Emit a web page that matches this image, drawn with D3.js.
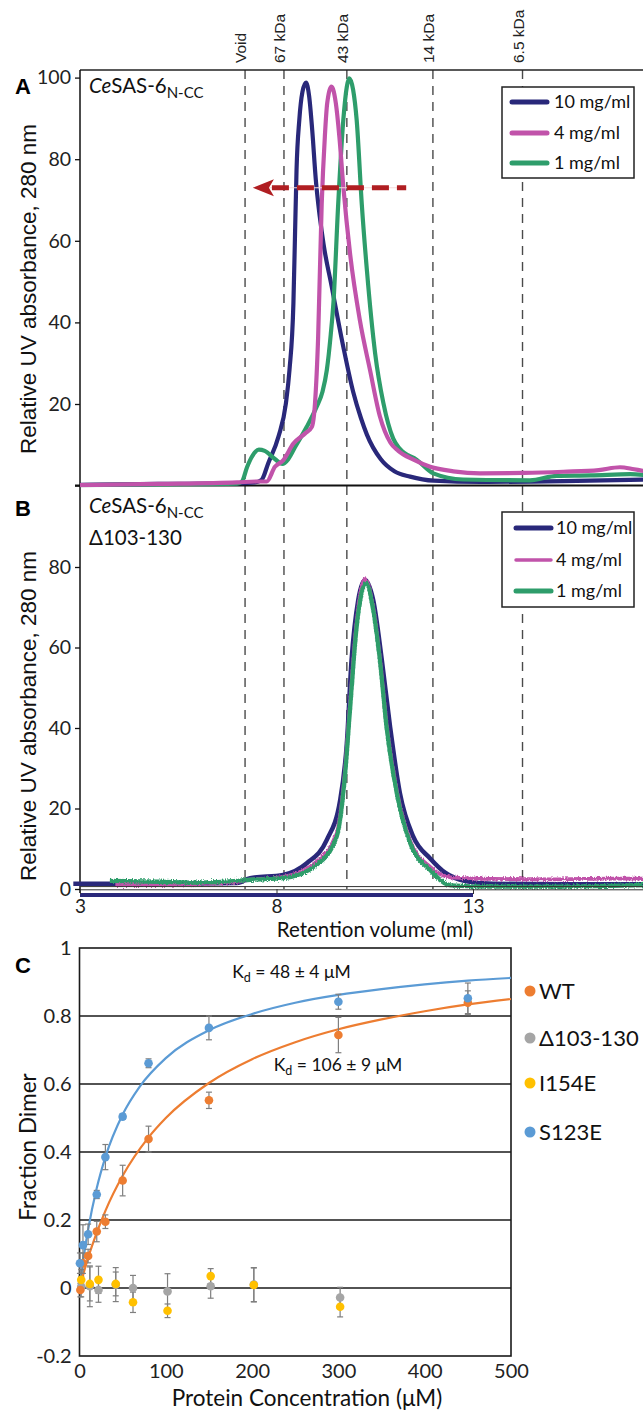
<!DOCTYPE html>
<html><head><meta charset="utf-8">
<script src="https://cdn.jsdelivr.net/npm/d3@7"></script>
<style>
html,body{margin:0;padding:0;background:#fff;}
svg{display:block;}
</style></head>
<body>
<svg id="chart" width="643" height="1412"></svg>
<script>
// ---------- Data ----------
// Size-exclusion markers (retention volume, ml)
const markerVols = [7.2, 8.19, 9.79, 11.98, 14.26];
const markerLabels = ["Void", "67 kDa", "43 kDa", "14 kDa", "6.5 kDa"];
const seriesNames = ["10 mg/ml", "4 mg/ml", "1 mg/ml"];
const seriesColors = ["#29287a", "#c153aa", "#2e9d6b"];

// Panel A: [volume ml, relative absorbance]
const a10 = [[3,0.2],[5,0.4],[7,0.6],[7.45,0.8],[7.62,1.4],[7.79,5.5],[8.05,12],[8.24,20.2],[8.33,28.3],[8.43,44.6],[8.47,61],[8.51,77.4],[8.58,89.6],[8.66,96.5],[8.75,98.8],[8.83,95.5],[8.91,87],[9.0,75],[9.1,66],[9.2,59],[9.4,49],[9.7,34],[9.95,23],[10.15,16.5],[10.3,12.5],[10.65,6.5],[11.0,3.5],[11.4,2.2],[12.0,1.2],[13.2,0.9],[15.3,1.1],[17.4,1.5]];
const a4 = [[3,0.1],[5,0.4],[7,0.8],[7.5,1.0],[7.75,1.0],[7.96,4.6],[8.17,6.2],[8.43,10.3],[8.73,12.8],[8.90,14.4],[8.98,20.2],[9.06,36.5],[9.15,69],[9.23,85.5],[9.29,93.7],[9.40,97.8],[9.51,93.7],[9.60,85.5],[9.70,73.3],[9.87,57],[10.12,40.6],[10.38,28.3],[10.63,17.0],[10.90,10.5],[11.10,8.5],[11.5,6.3],[11.91,4.6],[12.5,3.5],[13.18,3.0],[14.3,3.1],[15.3,3.4],[16.2,3.8],[16.74,4.5],[17.1,4.0],[17.4,3.5]];
const a1 = [[3,0.1],[5,0.3],[7.0,0.5],[7.12,1.0],[7.25,4.5],[7.37,7.0],[7.55,8.8],[7.7,8.5],[7.96,6.5],[8.15,5.3],[8.3,6.5],[8.47,9.4],[8.77,14.4],[9.02,19.3],[9.17,23],[9.28,28.3],[9.38,37],[9.45,45],[9.57,69],[9.70,89.6],[9.79,97.8],[9.85,99.8],[9.95,97],[10.04,89.6],[10.17,69],[10.30,52.8],[10.51,32.4],[10.72,20.2],[10.97,11.5],[11.14,9.0],[11.57,6.3],[11.99,3.0],[12.75,1.5],[14.45,1.3],[15.13,2.4],[16.0,2.5],[17.0,2.8],[17.4,2.6]];

// Panel B
const b10 = [[2.83,1.3],[5,1.3],[7,1.5],[7.33,2.7],[8.17,3.5],[8.77,6.4],[9.28,12.2],[9.62,22.1],[9.79,36.2],[9.91,56.9],[10.08,71.8],[10.25,76.8],[10.46,71.8],[10.68,56.9],[10.89,40.3],[11.14,23.8],[11.48,13.0],[11.91,7.6],[12.3,4],[12.8,2],[13.5,1.3],[15,1.2],[17.4,1.2]];
const b4 = [[3.9,1.0],[5,1.0],[6,1.2],[7,1.8],[7.33,2.3],[8.17,3.0],[9.02,6.8],[9.53,14],[9.74,29],[9.87,46],[10.04,66.5],[10.25,77],[10.46,70],[10.63,57.5],[10.80,41],[11.06,24.5],[11.40,12],[11.91,5.5],[12.43,2.9],[13.5,2.5],[15,2.4],[16.5,2.6],[17.4,2.6]];
const b1 = [[3.76,2.0],[5,1.8],[6,1.6],[7,2.0],[7.33,2.3],[8.17,2.7],[9.02,6.0],[9.53,13],[9.74,27.9],[9.87,44.5],[10.04,65.2],[10.28,76],[10.46,69.3],[10.63,56.9],[10.80,40.3],[11.06,23.8],[11.40,11.4],[11.91,4.7],[12.43,0.9],[13.5,0.6],[15,0.6],[16.5,0.8],[17.4,1.0]];
const bNavyBase = [[3,-1.5],[13,-1.5]];

const aTicks = [0,20,40,60,80,100];
const bTicks = [0,20,40,60,80];
const volTicks = [3,8,13];
// arrow annotation in panel A (from, to volume; level)
const arrowVols = [11.3, 7.4];
const arrowLevel = 73;

// Panel C: protein concentration (uM) vs fraction dimer
const cSeries = ["WT", "\u0394103-130", "I154E", "S123E"];
const cColors = ["#ed7d31", "#a5a5a5", "#ffc000", "#5b9bd5"];
const wtX   = [1,4,10,20,30,50,80,150,300,450];
const wtY   = [-0.006,0.073,0.094,0.166,0.195,0.316,0.438,0.552,0.744,0.839];
const wtErr = [0.02,0.03,0.02,0.03,0.02,0.045,0.038,0.024,0.052,0.035];
const s123eX   = [0.5,4,10,20,30,50,80,150,300,450];
const s123eY   = [0.073,0.126,0.158,0.275,0.385,0.504,0.661,0.765,0.842,0.852];
const s123eErr = [0.03,0.06,0.03,0.012,0.037,0.008,0.013,0.035,0.022,0.045];
const delX   = [2,12,22,42,62,102,152,202,302];
const delY   = [0.004,0.005,-0.006,0.01,0.0,-0.01,0.005,0.01,-0.028];
const delErr = [0.03,0.06,0.036,0.05,0.037,0.052,0.035,0.05,0.03];
const i154eX   = [2,12,22,42,62,102,152,202,302];
const i154eY   = [0.024,0.012,0.024,0.012,-0.042,-0.067,0.035,0.009,-0.055];
const i154eErr = [0.03,0.05,0.04,0.035,0.03,0.02,0.022,0.05,0.03];
const s123eFit = [[0,0],[2,0.04],[5,0.094],[10,0.172],[20,0.294],[30,0.385],[50,0.51],[70,0.593],[100,0.676],[150,0.758],[200,0.806],[250,0.839],[300,0.862],[350,0.879],[400,0.893],[450,0.904],[500,0.912]];
const wtFit = [[0,0],[5,0.046],[10,0.089],[20,0.163],[30,0.227],[50,0.33],[80,0.443],[100,0.5],[150,0.603],[200,0.673],[250,0.723],[300,0.761],[350,0.79],[400,0.814],[450,0.834],[500,0.85]];
const cYTicks = [-0.2,0,0.2,0.4,0.6,0.8,1];
const cYLabels = ["-0.2","0","0.2","0.4","0.6","0.8","1"];
const cXTicks = [0,100,200,300,400,500];
const cGrid = [0,0.2,0.4,0.6,0.8];
const kdLabels = [{kd:"48 \u00b1 4", x:177, y:0.912}, {kd:"106 \u00b1 9", x:225, y:0.638}];

// ---------- Drawing ----------
const svg = d3.select('#chart');
const W = 643;
const calib = "Lato, 'Liberation Sans', sans-serif";
const arial = "'Liberation Sans', Arial, sans-serif";

const xVol = d3.scaleLinear().domain([3,13]).range([80,473]);
const yA = d3.scaleLinear().domain([0,100]).range([485.6,77.6]);
const yB = d3.scaleLinear().domain([0,80]).range([889,567]);
const xC = d3.scaleLinear().domain([0,500]).range([79.5,511]);
const yC = d3.scaleLinear().domain([-0.2,1]).range([1356,948]);
const aTopY = 70;

const defs = svg.append('defs');
defs.append('clipPath').attr('id','clipA').append('rect')
  .attr('x', xVol(3)).attr('y', aTopY).attr('width', W - xVol(3)).attr('height', yA(0) - aTopY + 2);
defs.append('clipPath').attr('id','clipB').append('rect')
  .attr('x', 60).attr('y', yA(0)+1).attr('width', W-60).attr('height', yB(-3) - yA(0));
defs.append('clipPath').attr('id','clipC').append('rect')
  .attr('x', xC(0)).attr('y', yC(1)).attr('width', xC(500)-xC(0)).attr('height', yC(-0.2)-yC(1));
const filt = defs.append('filter').attr('id','jag').attr('filterUnits','userSpaceOnUse')
  .attr('x',0).attr('y',480).attr('width',W).attr('height',440);
filt.append('feTurbulence').attr('type','fractalNoise').attr('baseFrequency','0.9 0.5').attr('numOctaves',2).attr('seed',4).attr('result','n');
filt.append('feColorMatrix').attr('in','n').attr('type','matrix')
  .attr('values','0 0 0 0 0.5  0 1 0 0 0  0 0 0 0 0  0 0 0 0 1').attr('result','nv');
filt.append('feDisplacementMap').attr('in','SourceGraphic').attr('in2','nv').attr('scale',5).attr('xChannelSelector','R').attr('yChannelSelector','G');

// dashed marker lines
svg.append('g').selectAll('line').data(markerVols).join('line')
  .attr('x1', d=>xVol(d)).attr('x2', d=>xVol(d))
  .attr('y1', aTopY).attr('y2', yB(0))
  .attr('stroke', '#4a4a4a').attr('stroke-width', 1.4).attr('stroke-dasharray', '9,7');
svg.append('g').selectAll('text').data(markerVols).join('text')
  .attr('transform', d=>`translate(${xVol(d)+1},63) rotate(-90)`)
  .attr('font-family', arial).attr('font-size', 15.5).attr('fill','#222')
  .text((d,i)=>markerLabels[i]);

// Panel A frame / axes
svg.append('line').attr('x1', xVol(3)).attr('x2', W).attr('y1', aTopY).attr('y2', aTopY).attr('stroke','#222').attr('stroke-width',1.5);
svg.append('line').attr('x1', xVol(3)-5).attr('x2', W).attr('y1', yA(0)).attr('y2', yA(0)).attr('stroke','#111').attr('stroke-width',2);
svg.append('line').attr('x1', xVol(3)).attr('x2', xVol(3)).attr('y1', aTopY).attr('y2', yB(-1)).attr('stroke','#111').attr('stroke-width',1.5);

const axA = svg.append('g').attr('transform',`translate(${xVol(3)},0)`)
  .call(d3.axisLeft(yA).tickValues(aTicks).tickSize(5).tickPadding(4).tickFormat(d=> d===0 ? '' : d));
axA.select('.domain').remove();
axA.selectAll('text').attr('font-family', calib).attr('font-size', 19.5).attr('fill','#222');
axA.selectAll('line').attr('stroke','#111').attr('stroke-width',1.3);

// Panel A curves
const lineA = d3.line().x(d=>xVol(d[0])).y(d=>yA(d[1])).curve(d3.curveMonotoneX);
const gA = svg.append('g').attr('clip-path','url(#clipA)');
[[a10,0],[a1,2],[a4,1]].forEach(([data,i])=>{
  gA.append('path').datum(data).attr('d', lineA).attr('fill','none')
    .attr('stroke', seriesColors[i]).attr('stroke-width', 4.2).attr('stroke-linejoin','round');
});

// Red dashed arrow
const ax0 = xVol(arrowVols[0]), ax1 = xVol(arrowVols[1]), ayv = yA(arrowLevel);
svg.append('line').attr('x1', ax1).attr('x2', ax0).attr('y1', ayv).attr('y2', ayv)
  .attr('stroke', '#f6dada').attr('stroke-width', 1);
svg.append('line').attr('x1', ax1 + 19).attr('x2', ax0).attr('y1', ayv).attr('y2', ayv)
  .attr('stroke', '#b01e22').attr('stroke-width', 5).attr('stroke-dasharray', '17,8');
svg.append('path').attr('d', `M${ax1},${ayv} L${ax1+21},${ayv-8.5} L${ax1+16},${ayv} L${ax1+21},${ayv+8.5} Z`)
  .attr('fill', '#b01e22');

// Panel titles
function title(y) {
  const t = svg.append('text').attr('x', 89).attr('y', y).attr('font-family', calib).attr('font-size', 20.5).attr('fill','#111');
  t.append('tspan').attr('font-style','italic').text('Ce');
  t.append('tspan').text('SAS-6');
  t.append('tspan').attr('font-size', 15).attr('dy', 5).text('N-CC');
}
title(93);
title(513);
svg.append('text').attr('x', 89).attr('y', 545).attr('font-family', calib).attr('font-size', 20.5).attr('fill','#111').text('\u0394103-130');

svg.append('text').attr('x', 15).attr('y', 94).attr('font-family', arial).attr('font-weight','bold').attr('font-size', 22).text('A');
svg.append('text').attr('x', 15).attr('y', 516).attr('font-family', arial).attr('font-weight','bold').attr('font-size', 22).text('B');
svg.append('text').attr('x', 15).attr('y', 973).attr('font-family', arial).attr('font-weight','bold').attr('font-size', 22).text('C');

// Y titles
[[289],[716]].forEach(([cy])=>{
  svg.append('text').attr('transform', `translate(36,${cy}) rotate(-90)`).attr('text-anchor','middle')
    .attr('font-family', arial).attr('font-size', 22.5).attr('fill','#111').text('Relative UV absorbance, 280 nm');
});

// Legends A and B
function legend(x0, y0, x1, y1, rows, lx0, lx1, tx, widths) {
  svg.append('rect').attr('x', x0).attr('y', y0).attr('width', x1-x0).attr('height', y1-y0)
    .attr('fill','#fff').attr('stroke','#222').attr('stroke-width',1.5);
  rows.forEach((ry, i)=>{
    svg.append('line').attr('x1', lx0).attr('x2', lx1).attr('y1', ry).attr('y2', ry)
      .attr('stroke', seriesColors[i]).attr('stroke-width', widths[i]).attr('stroke-linecap','round');
    svg.append('text').attr('x', tx).attr('y', ry+6).attr('font-family', calib).attr('font-size', 18).attr('fill','#111').text(seriesNames[i]);
  });
}
legend(502, 87, 634, 178, [102,133,163], 512, 547, 554, [5,5,5]);

// Panel B axes
const axB = svg.append('g').attr('transform',`translate(${xVol(3)},0)`)
  .call(d3.axisLeft(yB).tickValues(bTicks).tickSize(5).tickPadding(4));
axB.select('.domain').remove();
axB.selectAll('text').attr('font-family', calib).attr('font-size', 19.5).attr('fill','#222');
axB.selectAll('line').attr('stroke','#111').attr('stroke-width',1.3);

// Panel B curves
const lineB = d3.line().x(d=>xVol(d[0])).y(d=>yB(d[1])).curve(d3.curveMonotoneX);
const gB = svg.append('g').attr('clip-path','url(#clipB)');
gB.append('path').datum(b10).attr('d', lineB).attr('fill','none').attr('stroke', seriesColors[0]).attr('stroke-width', 4.5);
gB.append('path').datum(b4).attr('d', lineB).attr('fill','none').attr('stroke', seriesColors[1]).attr('stroke-width', 3.8).attr('filter','url(#jag)');
gB.append('path').datum(b1).attr('d', lineB).attr('fill','none').attr('stroke', seriesColors[2]).attr('stroke-width', 4.3).attr('filter','url(#jag)');

// B baseline lines and x axis
svg.append('line').attr('x1', xVol(3)).attr('x2', W).attr('y1', yB(0.6)).attr('y2', yB(0.6)).attr('stroke','#333').attr('stroke-width',1);
svg.append('line').attr('x1', xVol(3)).attr('x2', W).attr('y1', yB(-0.2)).attr('y2', yB(-0.2)).attr('stroke','#333').attr('stroke-width',1);
svg.append('path').datum(bNavyBase).attr('d', d3.line().x(d=>xVol(d[0])).y(d=>yB(d[1]))).attr('stroke', seriesColors[0]).attr('stroke-width', 4).attr('fill','none');
const axX = svg.append('g').attr('transform',`translate(0,${yB(0)})`)
  .call(d3.axisBottom(xVol).tickValues(volTicks).tickSize(5).tickPadding(6));
axX.select('.domain').remove();
axX.selectAll('line').attr('stroke','#333');
axX.selectAll('text').attr('font-family', calib).attr('font-size', 19).attr('fill','#222');
svg.append('text').attr('x', 375).attr('y', 937).attr('text-anchor','middle').attr('font-family', calib).attr('font-size', 20.5).attr('fill','#111').text('Retention volume (ml)');

legend(502, 512, 634, 607, [528,560,591], 516, 551, 556, [5,3.5,5]);

// ---------- Panel C ----------
const gC = svg.append('g');
gC.selectAll('line.grid').data(cGrid).join('line').attr('class','grid')
  .attr('x1', xC(0)).attr('x2', xC(500)).attr('y1', d=>yC(d)).attr('y2', d=>yC(d))
  .attr('stroke','#1a1a1a').attr('stroke-width',1.3);
gC.append('rect').attr('x', xC(0)).attr('y', yC(1)).attr('width', xC(500)-xC(0)).attr('height', yC(-0.2)-yC(1))
  .attr('fill','none').attr('stroke','#1a1a1a').attr('stroke-width',1.6);

const axCY = svg.append('g').attr('transform',`translate(${xC(0)},0)`)
  .call(d3.axisLeft(yC).tickValues(cYTicks).tickSize(0).tickPadding(8).tickFormat((d,i)=>cYLabels[i]));
axCY.select('.domain').remove();
axCY.selectAll('text').attr('font-family', calib).attr('font-size', 20).attr('fill','#222');
const axCX = svg.append('g').attr('transform',`translate(0,${yC(-0.2)})`)
  .call(d3.axisBottom(xC).tickValues(cXTicks).tickSize(0).tickPadding(8));
axCX.select('.domain').remove();
axCX.selectAll('text').attr('font-family', calib).attr('font-size', 20).attr('fill','#222');

svg.append('text').attr('x', 307).attr('y', 1406).attr('text-anchor','middle').attr('font-family', calib).attr('font-size', 22.5).attr('fill','#111').text('Protein Concentration (\u03bcM)');
svg.append('text').attr('transform','translate(36,1147) rotate(-90)').attr('text-anchor','middle').attr('font-family', calib).attr('font-size', 22.5).attr('fill','#111').text('Fraction Dimer');

// fits
const lineC = d3.line().x(d=>xC(d[0])).y(d=>yC(d[1])).curve(d3.curveMonotoneX);
const gFit = svg.append('g').attr('clip-path','url(#clipC)');
gFit.append('path').datum(s123eFit).attr('d', lineC).attr('fill','none').attr('stroke', cColors[3]).attr('stroke-width', 2.2);
gFit.append('path').datum(wtFit).attr('d', lineC).attr('fill','none').attr('stroke', cColors[0]).attr('stroke-width', 2.2);

// points with error bars
const pts = [
  {xs: delX, ys: delY, es: delErr, c: cColors[1]},
  {xs: i154eX, ys: i154eY, es: i154eErr, c: cColors[2]},
  {xs: wtX, ys: wtY, es: wtErr, c: cColors[0]},
  {xs: s123eX, ys: s123eY, es: s123eErr, c: cColors[3]},
];
const gErr = svg.append('g');
pts.forEach(s=>{
  s.xs.forEach((x,i)=>{
    const cx = xC(x), y0 = yC(s.ys[i]-s.es[i]), y1 = yC(s.ys[i]+s.es[i]);
    gErr.append('line').attr('x1',cx).attr('x2',cx).attr('y1',y0).attr('y2',y1).attr('stroke','#7f7f7f').attr('stroke-width',1.2);
    gErr.append('line').attr('x1',cx-3).attr('x2',cx+3).attr('y1',y0).attr('y2',y0).attr('stroke','#7f7f7f').attr('stroke-width',1.2);
    gErr.append('line').attr('x1',cx-3).attr('x2',cx+3).attr('y1',y1).attr('y2',y1).attr('stroke','#7f7f7f').attr('stroke-width',1.2);
  });
});
const gPts = svg.append('g');
pts.forEach(s=>{
  gPts.selectAll(null).data(s.xs).join('circle')
    .attr('cx', d=>xC(d)).attr('cy', (d,i)=>yC(s.ys[i])).attr('r', 4.3).attr('fill', s.c);
});

// Kd annotations
kdLabels.forEach(k=>{
  const t = svg.append('text').attr('x', xC(k.x)).attr('y', yC(k.y)).attr('font-family', calib).attr('font-size', 17.5).attr('fill','#111');
  t.append('tspan').text('K');
  t.append('tspan').attr('font-size', 12.5).attr('dy', 4).text('d');
  t.append('tspan').attr('dy', -4).text(' = ' + k.kd + ' \u03bcM');
});

// Legend C
const legY = [991, 1038, 1083, 1132];
cSeries.forEach((name,i)=>{
  svg.append('circle').attr('cx', 530).attr('cy', legY[i]).attr('r', 5.5).attr('fill', cColors[i]);
  svg.append('text').attr('x', 539).attr('y', legY[i]+8).attr('font-family', calib).attr('font-size', 22).attr('fill','#111').text(name);
});
</script>
</body></html>
